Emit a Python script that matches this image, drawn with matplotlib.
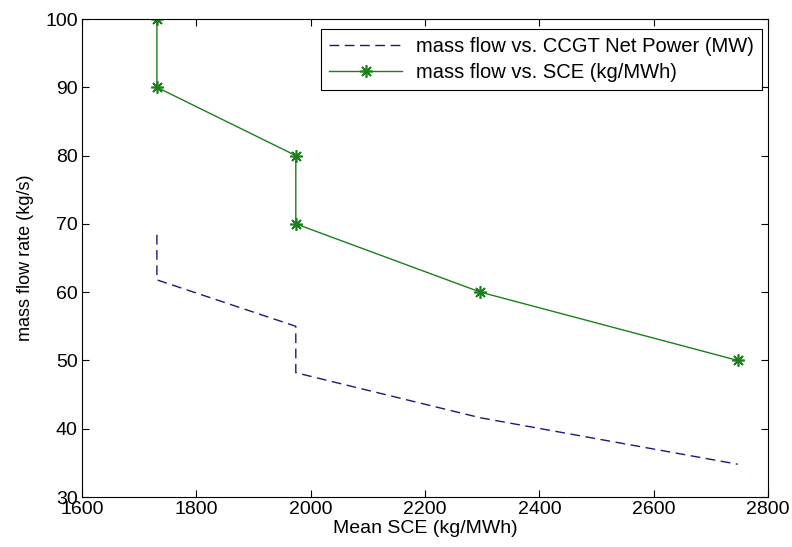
import matplotlib
matplotlib.use('Agg')
from matplotlib import pyplot as plt

plt.rcParams['font.family'] = ['Liberation Sans', 'DejaVu Sans']

# mean SCE (kg/MWh) on x, mass flow rate on y
sce = [1731, 1731, 1974, 1974, 2297, 2747]
flow_power = [68.4, 61.8, 55.0, 48.2, 41.6, 34.8]
flow_sce = [100, 90, 80, 70, 60, 50]

xticks = [1600, 1800, 2000, 2200, 2400, 2600, 2800]
yticks = [30, 40, 50, 60, 70, 80, 90, 100]

fig = plt.figure(figsize=(7.92, 5.47), dpi=100)
ax = fig.add_axes([82/792, 1 - 497/547, (768-82)/792, (497-19)/547])

ax.plot(sce, flow_power, color=(0.1, 0.1, 0.45), linestyle=(0, (7, 4)), linewidth=1,
        label='mass flow vs. CCGT Net Power (MW)')
ax.plot(sce, flow_sce, color=(0.1, 0.5, 0.1), linewidth=1, marker=(8, 2, 0),
        markersize=9, markeredgewidth=1.2, label='mass flow vs. SCE (kg/MWh)')

ax.set_xlim(1600, 2800)
ax.set_ylim(30, 100)
ax.set_xticks(xticks)
ax.set_yticks(yticks)
ax.tick_params(direction='in', top=True, right=True, length=5, labelsize=14, pad=3)
for s in ax.spines.values():
    s.set_linewidth(0.8)

ax.set_xlabel('Mean SCE (kg/MWh)', fontsize=14, labelpad=1)
ax.set_ylabel('mass flow rate (kg/s)', fontsize=13, labelpad=8)

leg = ax.legend(loc='upper right', bbox_to_anchor=((762-82)/686, (497-29)/478),
                borderaxespad=0, fontsize=14.5, fancybox=False, framealpha=1,
                edgecolor='black', handlelength=3.6, handletextpad=0.7,
                borderpad=0.4, labelspacing=0.35)
leg.get_frame().set_linewidth(0.8)

fig.savefig('out.png', dpi=100)
